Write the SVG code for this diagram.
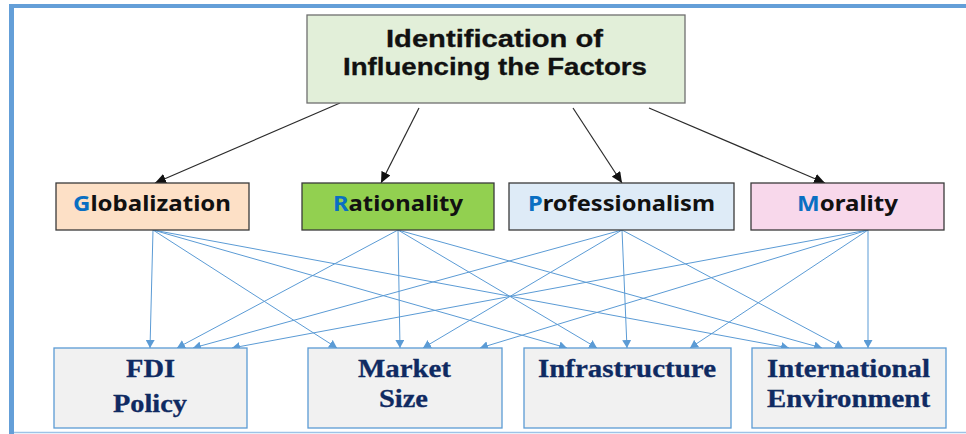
<svg xmlns="http://www.w3.org/2000/svg" width="966" height="434" viewBox="0 0 966 434">
  <style>
    .frame { fill: #649fd8; }
    .top { fill: #e2efd9; stroke: #6f6f6f; stroke-width: 1.3; }
    .mid { stroke: #3a3a3a; stroke-width: 1.3; }
    .bot { fill: #f1f1f1; stroke: #5b9bd5; stroke-width: 1.3; }
    .t-top { font-family: "Liberation Sans", Arial, sans-serif; font-weight: bold; font-size: 23px; fill: #111; stroke: #111; stroke-width: 0.3; }
    .t-mid { font-family: "Noto Sans", "Open Sans", sans-serif; font-weight: bold; font-size: 21.5px; fill: #111; }
    .t-mid .init { fill: #0a6fc2; }
    .t-bot { font-family: "Liberation Serif", "Times New Roman", serif; font-weight: bold; font-size: 25px; fill: #0f2a62; stroke: #0f2a62; stroke-width: 0.3; }
    .blk { stroke: #2b2b2b; stroke-width: 1.2; fill: none; }
    .blu { stroke: #5b9bd5; stroke-width: 1; fill: none; }
  </style>
  <defs>
    <marker id="ah-black" markerUnits="userSpaceOnUse" markerWidth="12" markerHeight="10" refX="11" refY="5" orient="auto">
      <path d="M0,0 L11,5 L0,10 Z" fill="#111"/>
    </marker>
    <marker id="ah-blue" markerUnits="userSpaceOnUse" markerWidth="9" markerHeight="9" refX="8" refY="4.5" orient="auto">
      <path d="M0,0 L8,4.5 L0,9 Z" fill="#5b9bd5"/>
    </marker>
  </defs>

  <rect width="966" height="434" fill="#ffffff"/>
  <!-- page frame -->
  <rect class="frame" x="9" y="4" width="957" height="4"/>
  <rect class="frame" x="9" y="4" width="5" height="430"/>
  <line x1="14" y1="432.5" x2="966" y2="432.5" stroke="#9dc3e6" stroke-width="1.5"/>

  <!-- connectors -->
  <g id="connectors">
    <line class="blk" x1="340" y1="103" x2="155" y2="183" marker-end="url(#ah-black)"/>
    <line class="blk" x1="419" y1="108" x2="381" y2="183" marker-end="url(#ah-black)"/>
    <line class="blk" x1="573" y1="108" x2="622" y2="183" marker-end="url(#ah-black)"/>
    <line class="blk" x1="649" y1="108" x2="825" y2="183" marker-end="url(#ah-black)"/>

    <!-- Globalization -->
    <line class="blu" x1="153" y1="230" x2="150" y2="348" marker-end="url(#ah-blue)"/>
    <line class="blu" x1="153" y1="230" x2="337" y2="348" marker-end="url(#ah-blue)"/>
    <line class="blu" x1="153" y1="230" x2="567" y2="348" marker-end="url(#ah-blue)"/>
    <line class="blu" x1="153" y1="230" x2="789" y2="348" marker-end="url(#ah-blue)"/>
    <!-- Rationality -->
    <line class="blu" x1="398" y1="230" x2="177" y2="348" marker-end="url(#ah-blue)"/>
    <line class="blu" x1="398" y1="230" x2="400" y2="348" marker-end="url(#ah-blue)"/>
    <line class="blu" x1="398" y1="230" x2="597" y2="348" marker-end="url(#ah-blue)"/>
    <line class="blu" x1="398" y1="230" x2="822" y2="348" marker-end="url(#ah-blue)"/>
    <!-- Professionalism -->
    <line class="blu" x1="622" y1="230" x2="193" y2="348" marker-end="url(#ah-blue)"/>
    <line class="blu" x1="622" y1="230" x2="423" y2="348" marker-end="url(#ah-blue)"/>
    <line class="blu" x1="622" y1="230" x2="627" y2="348" marker-end="url(#ah-blue)"/>
    <line class="blu" x1="622" y1="230" x2="843" y2="348" marker-end="url(#ah-blue)"/>
    <!-- Morality -->
    <line class="blu" x1="868" y1="230" x2="232" y2="348" marker-end="url(#ah-blue)"/>
    <line class="blu" x1="868" y1="230" x2="480" y2="348" marker-end="url(#ah-blue)"/>
    <line class="blu" x1="868" y1="230" x2="690" y2="348" marker-end="url(#ah-blue)"/>
    <line class="blu" x1="868" y1="230" x2="868" y2="348" marker-end="url(#ah-blue)"/>
  </g>

  <g id="identification">
    <rect class="top" x="307" y="15" width="378" height="88"/>
    <text class="t-top" x="386" y="47" textLength="217" lengthAdjust="spacingAndGlyphs">Identification of</text>
    <text class="t-top" x="343" y="75" textLength="304" lengthAdjust="spacingAndGlyphs">Influencing the Factors</text>
  </g>

  <g id="globalization">
    <rect class="mid" x="56" y="183" width="193" height="47" fill="#fde0c6"/>
    <text class="t-mid" x="73" y="211" textLength="158" lengthAdjust="spacingAndGlyphs"><tspan class="init">G</tspan>lobalization</text>
  </g>
  <g id="rationality">
    <rect class="mid" x="302" y="183" width="192" height="47" fill="#92d050"/>
    <text class="t-mid" x="333" y="211" textLength="130" lengthAdjust="spacingAndGlyphs"><tspan class="init">R</tspan>ationality</text>
  </g>
  <g id="professionalism">
    <rect class="mid" x="509" y="183" width="225" height="47" fill="#deebf7"/>
    <text class="t-mid" x="528" y="211" textLength="187" lengthAdjust="spacingAndGlyphs"><tspan class="init">P</tspan>rofessionalism</text>
  </g>
  <g id="morality">
    <rect class="mid" x="751" y="183" width="193" height="47" fill="#f8d8eb"/>
    <text class="t-mid" x="797" y="211" textLength="101" lengthAdjust="spacingAndGlyphs"><tspan class="init">M</tspan>orality</text>
  </g>

  <g id="fdi-policy">
    <rect class="bot" x="54" y="348" width="193" height="80"/>
    <text class="t-bot" x="126" y="377" textLength="49" lengthAdjust="spacingAndGlyphs">FDI</text>
    <text class="t-bot" x="113" y="412" textLength="74" lengthAdjust="spacingAndGlyphs">Policy</text>
  </g>
  <g id="market-size">
    <rect class="bot" x="308" y="348" width="194" height="80"/>
    <text class="t-bot" x="358" y="377" textLength="93" lengthAdjust="spacingAndGlyphs">Market</text>
    <text class="t-bot" x="379" y="407" textLength="49" lengthAdjust="spacingAndGlyphs">Size</text>
  </g>
  <g id="infrastructure">
    <rect class="bot" x="524" y="348" width="207" height="80"/>
    <text class="t-bot" x="538" y="377" textLength="178" lengthAdjust="spacingAndGlyphs">Infrastructure</text>
  </g>
  <g id="international-environment">
    <rect class="bot" x="752" y="348" width="194" height="80"/>
    <text class="t-bot" x="767" y="377" textLength="163" lengthAdjust="spacingAndGlyphs">International</text>
    <text class="t-bot" x="767" y="407" textLength="163" lengthAdjust="spacingAndGlyphs">Environment</text>
  </g>
</svg>
